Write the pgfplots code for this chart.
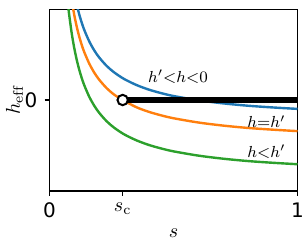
\documentclass[border=0pt]{standalone}
\usepackage{fontspec}
\newfontfamily\dejavu{DejaVu Sans}
\usepackage{pgfplots}
\pgfplotsset{compat=1.18}
\definecolor{tabblue}{HTML}{1F77B4}
\definecolor{taborange}{HTML}{FF7F0E}
\definecolor{tabgreen}{HTML}{2CA02C}
\begin{document}
\begin{tikzpicture}
\begin{axis}[
  at={(0,0)}, anchor=south west,
  scale only axis, width=124pt, height=90.7pt,
  xmin=0, xmax=1, ymin=-1, ymax=1,
  xtick={0,0.295,1},
  xticklabels={{\dejavu 0},{$s_{\mathrm{c}}$},{\dejavu 1}},
  ytick={0}, yticklabels={{\dejavu 0}},
  tick align=outside, tick pos=left,
  major tick length=2.5pt,
  axis line style={line width=0.8pt},
  every tick/.style={black, line width=0.8pt},
  xlabel={$s$}, ylabel={$h_{\mathrm{eff}}$},
  xlabel style={at={(axis description cs:0.5,-0.2316)}, anchor=center},
  ylabel style={at={(axis description cs:-0.141,0.5)}, anchor=center},
  clip=true,
]
\addplot[tabblue, line width=1.2pt, smooth] coordinates {
(0.105,1.112) (0.11,1.051) (0.12,0.943) (0.13,0.852) (0.14,0.774) (0.16,0.648)
(0.18,0.549) (0.2,0.470) (0.23,0.377) (0.26,0.306) (0.3,0.233) (0.35,0.166)
(0.4,0.115) (0.45,0.076) (0.5,0.044) (0.6,-0.003) (0.7,-0.037) (0.8,-0.063)
(0.9,-0.082) (1.0,-0.098)};
\addplot[taborange, line width=1.2pt, smooth] coordinates {
(0.09,1.093) (0.1,0.935) (0.11,0.806) (0.12,0.698) (0.13,0.607) (0.14,0.529)
(0.16,0.403) (0.18,0.304) (0.2,0.225) (0.23,0.132) (0.26,0.061) (0.295,0)
(0.35,-0.079) (0.4,-0.13) (0.45,-0.169) (0.5,-0.201) (0.6,-0.248) (0.7,-0.282)
(0.8,-0.308) (0.9,-0.327) (1.0,-0.343)};
\addplot[tabgreen, line width=1.2pt, smooth] coordinates {
(0.07,1.179) (0.075,1.043) (0.08,0.925) (0.09,0.728) (0.1,0.57) (0.11,0.441)
(0.12,0.333) (0.13,0.242) (0.14,0.164) (0.16,0.0375) (0.18,-0.061) (0.2,-0.14)
(0.23,-0.233) (0.26,-0.304) (0.3,-0.377) (0.35,-0.444) (0.4,-0.495) (0.45,-0.534)
(0.5,-0.566) (0.6,-0.613) (0.7,-0.647) (0.8,-0.673) (0.9,-0.692) (1.0,-0.708)};
\addplot[black, line width=3pt] coordinates {(0.295,0) (1,0)};
\addplot[only marks, mark=*, mark size=2.6pt, mark options={fill=white, draw=black, line width=1pt}] coordinates {(0.295,0)};
\node[font=\footnotesize] at (axis cs:0.518,0.254) {$h'{<}h{<}0$};
\node[font=\footnotesize] at (axis cs:0.875,-0.239) {$h{=}h'$};
\node[font=\footnotesize] at (axis cs:0.875,-0.57) {$h{<}h'$};
\end{axis}
\pgfresetboundingbox
\path (-24.75pt,-28.65pt) rectangle (129.25pt,95.35pt);
\end{tikzpicture}
\end{document}
